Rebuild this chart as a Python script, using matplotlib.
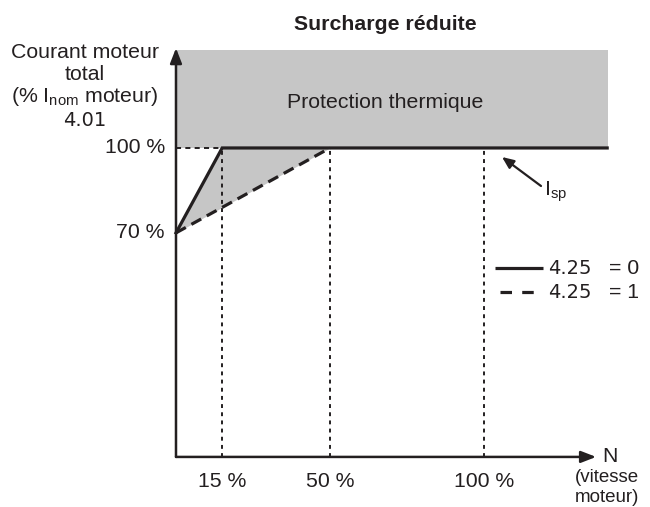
import matplotlib
matplotlib.use("Agg")
import matplotlib.pyplot as plt
from matplotlib.transforms import Affine2D
import numpy as np

# ---- data ----
title = "Surcharge réduite"
zone_label = "Protection thermique"
speed_ticks = [15, 50, 100]                 # N (% vitesse moteur)
speed_labels = ["15 %", "50 %", "100 %"]
current_ticks = [70, 100]                   # % I nom moteur
current_labels = ["70 %", "100 %"]
curve0_x = [0, 15, 140]                     # 4.25 = 0
curve0_y = [70, 100, 100]
curve1_x = [0, 50]                          # 4.25 = 1
curve1_y = [70, 100]
legend_labels = ["4.25", "4.25"]
legend_values = ["= 0", "= 1"]

plt.rcParams["font.family"] = ["Liberation Sans", "DejaVu Sans"]
plt.rcParams["mathtext.fontset"] = "custom"
plt.rcParams["mathtext.rm"] = "Liberation Sans"
plt.rcParams["mathtext.it"] = "Liberation Sans"

W, H = 650, 507
fig = plt.figure(figsize=(W / 100, H / 100), dpi=100)
ax = fig.add_axes([0, 0, 1, 1])
ax.set_xlim(-57.14, 153.9)
ax.set_ylim(-26.9, 152.3)
ax.axis("off")

pix = Affine2D().scale(1 / W, -1 / H).translate(0, 1) + fig.transFigure

FS = 15.3
FS2 = 14
K = "#231f20"
GRAY = "#c6c6c6"
y_axis = -9.2
x_top = 140.3
y_top = 134.6

# gray protection zone
ax.fill_between([0, x_top], [100, 100], [y_top, y_top], color=GRAY, lw=0, zorder=1)
# region between the two curves
xs = np.array(sorted(set(curve0_x + curve1_x)))
xs = xs[xs <= max(curve1_x)]
ax.fill_between(xs, np.interp(xs, curve1_x, curve1_y), np.interp(xs, curve0_x, curve0_y),
                color=GRAY, lw=0, zorder=1)

# guide lines
ax.plot([0, speed_ticks[0]], [100, 100], color=K, lw=1.4, dashes=(2.6, 2.2), zorder=2)
for s in speed_ticks:
    ax.plot([s, s], [y_axis, 100], color=K, lw=1.4, dashes=(2.0, 2.2), zorder=2)

# curves
ax.plot(curve1_x, curve1_y, color=K, lw=2.3, dashes=(3.5, 2.0), zorder=3, solid_capstyle="butt")
ax.plot(curve0_x, curve0_y, color=K, lw=2.3, zorder=4, solid_joinstyle="miter")

# axes arrows
ap = dict(arrowstyle="-|>,head_length=0.9,head_width=0.35", color=K, lw=1.8, shrinkA=0, shrinkB=0)
ax.annotate("", xy=(0, 135.3), xytext=(0, y_axis), arrowprops=ap, zorder=5)
ax.annotate("", xy=(136.4, y_axis), xytext=(0, y_axis), arrowprops=ap, zorder=5)

# tick labels
for v, lab in zip(current_ticks, current_labels):
    ax.text(-3.6, v, lab, ha="right", va="center", fontsize=FS, color=K)
for s, lab in zip(speed_ticks, speed_labels):
    ax.text(s, -17.8, lab, ha="center", va="center", fontsize=FS, color=K)

# titles & labels
ax.text(385, 25, title, transform=pix, ha="center", va="center", fontsize=FS,
        fontweight="bold", color=K)
ax.text(385, 102, zone_label, transform=pix, ha="center", va="center", fontsize=FS, color=K)
ax.text(85, 52, "Courant moteur", transform=pix, ha="center", va="center", fontsize=FS, color=K)
ax.text(85, 75, "total", transform=pix, ha="center", va="center", fontsize=FS, color=K)
ax.text(85, 97, r"(% I$_\mathregular{nom}$ moteur)", transform=pix, ha="center", va="center",
        fontsize=FS, color=K)
ax.text(85, 121, "4.01", transform=pix, ha="center", va="center", fontsize=FS2,
        color=K, family="DejaVu Sans")
ax.text(602, 456, "N", transform=pix, ha="left", va="center", fontsize=FS, color=K)
ax.text(607, 478, "(vitesse", transform=pix, ha="center", va="center", fontsize=13.5, color=K)
ax.text(607, 497, "moteur)", transform=pix, ha="center", va="center", fontsize=13.5, color=K)

# I_sp annotation
ax.annotate("", xy=(502, 157), xytext=(541, 186), xycoords=pix, textcoords=pix,
            arrowprops=dict(arrowstyle="-|>,head_length=0.7,head_width=0.3", color=K, lw=1.6,
                            shrinkA=0, shrinkB=0))
ax.text(544, 192, r"I$_\mathregular{sp}$", transform=pix, ha="left", va="center",
        fontsize=FS, color=K)

# legend
ax.plot([495, 543], [268, 268], transform=pix, color=K, lw=2.3, solid_capstyle="butt")
ax.plot([500, 543], [292, 292], transform=pix, color=K, lw=2.3, dashes=(3.6, 3.2))
for i, (lab, val) in enumerate(zip(legend_labels, legend_values)):
    y = 268 + 24 * i
    ax.text(548, y, lab, transform=pix, ha="left", va="center", fontsize=FS2,
            color=K, family="DejaVu Sans")
    ax.text(609, y, val, transform=pix, ha="left", va="center", fontsize=FS, color=K)

fig.savefig("out.png", dpi=100)
